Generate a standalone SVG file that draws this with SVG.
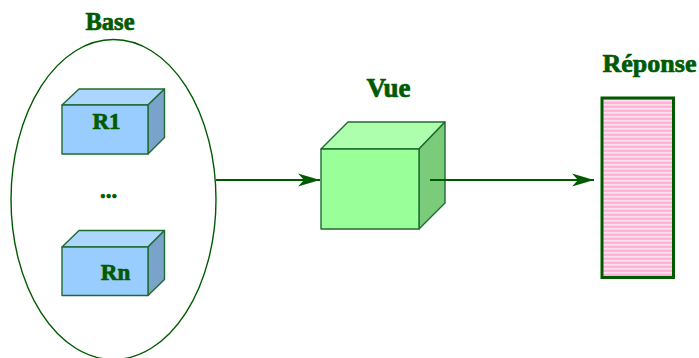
<svg xmlns="http://www.w3.org/2000/svg" width="699" height="358" viewBox="0 0 699 358">
<style>
text{font-family:"Liberation Serif","Times New Roman",serif;font-weight:bold;fill:#005a00;text-anchor:middle;stroke:#005a00;stroke-width:.7}
.r{font-size:23px}
.e{stroke:#1f6b2e;stroke-width:1.4;stroke-linejoin:round}
.blue .f{fill:#99ccff}.blue .t{fill:#add6ff}.blue .s{fill:#7aa3cc}
.green .f{fill:#99ff99}.green .t{fill:#adffad}.green .s{fill:#7acc7a}
.c{stroke:#005a00;stroke-width:2.2;fill:none}
</style>
<defs>
<pattern id="stripes" width="4" height="4" patternUnits="userSpaceOnUse"><rect width="4" height="4" fill="#ffb3d6"/><rect width="4" height="1.6" fill="#ffe0ee"/></pattern>
<marker id="arrow" markerUnits="userSpaceOnUse" markerWidth="24" markerHeight="16" refX="22" refY="8" orient="auto"><path d="M0,1.500 L22,8 L0,14.500 L6,8 Z" fill="#005a00"/></marker>
</defs>
<g id="base">
<ellipse cx="113.500" cy="199.500" rx="102.500" ry="160" fill="#fff" stroke="#005a00" stroke-width="1.400"/>
<text x="110" y="30" font-size="24.500">Base</text>
</g>
<g id="r1" class="blue">
<path class="e t" d="M62,105 L79,89 L164.500,89 L148,105 Z"/>
<path class="e s" d="M148,105 L164.500,89 L164.500,137.500 L148,154 Z"/>
<rect class="e f" x="62" y="105" width="86" height="49"/>
<text class="r" x="106.500" y="129">R1</text>
</g>
<g id="dots"><text x="108.500" y="198" font-size="23">...</text></g>
<g id="rn" class="blue">
<path class="e t" d="M62,247 L79,230.500 L164.500,230.500 L148,247 Z"/>
<path class="e s" d="M148,247 L164.500,230.500 L164.500,279.500 L148,295.500 Z"/>
<rect class="e f" x="62" y="247" width="86" height="48.500"/>
<text class="r" x="115.500" y="280">Rn</text>
</g>
<g id="vue" class="green">
<path class="e t" d="M321,149 L348,122 L445,122 L419,149 Z"/>
<path class="e s" d="M419,149 L445,122 L445,203 L419,229 Z"/>
<rect class="e f" x="321" y="149" width="98" height="80"/>
<text x="388.500" y="97" font-size="27">Vue</text>
</g>
<g id="reponse">
<rect x="602" y="98" width="71.500" height="179.500" fill="url(#stripes)" stroke="#005a00" stroke-width="3"/>
<text x="649.500" y="72" font-size="26">Réponse</text>
</g>
<g id="connectors">
<path class="c" d="M216,180 H320" marker-end="url(#arrow)"/>
<path class="c" d="M430,180 H594" marker-end="url(#arrow)"/>
</g>
</svg>
